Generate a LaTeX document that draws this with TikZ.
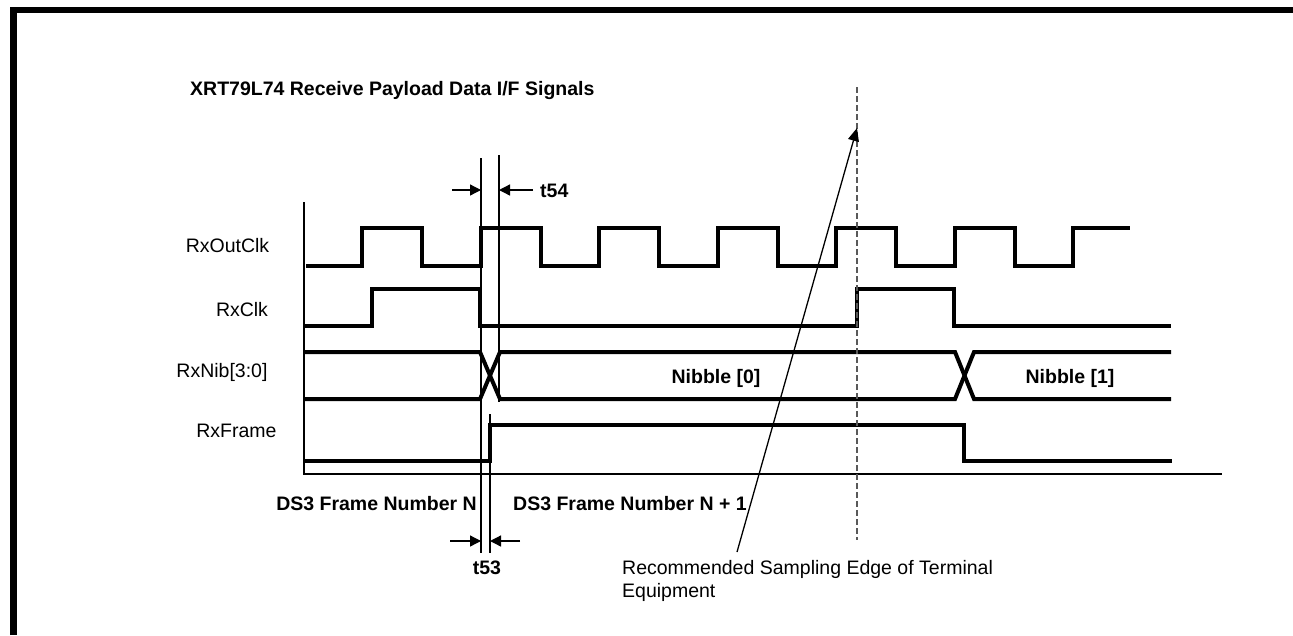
\documentclass[tikz,border=0pt]{standalone}
\usepackage{fontspec}
\setmainfont{Liberation Sans}
\usetikzlibrary{arrows.meta,positioning}

\begin{document}
\begin{tikzpicture}[x=1pt,y=-1pt,
    sig/.style={line width=4pt},
    axis/.style={line width=1.8pt},
    guide/.style={line width=1.2pt},
    dim/.style={line width=1.3pt,-{Triangle[length=11pt,width=11pt]}},
    lbl/.style={font=\fontsize{19.5}{23}\selectfont,inner sep=0pt},
    blbl/.style={font=\fontsize{19.5}{23}\selectfont\bfseries,inner sep=0pt}
]
\useasboundingbox (0,0) rectangle (1293,635);
\draw[line width=6.5pt] (13.5,635) -- (13.5,10) -- (1293,10);

\node[blbl,anchor=base west] (title) at (190,95) {XRT79L74 Receive Payload Data I/F Signals};

% signal names
\node[lbl,anchor=base] (outclk) at (227.5,252) {RxOutClk};
\node[lbl,anchor=base] (clk) at (242,316) {RxClk};
\node[lbl,anchor=base] (nib) at (222,377) {RxNib[3:0]};
\node[lbl,anchor=base] (frame) at (236.5,437) {RxFrame};

% axes
\draw[axis] (304,202) -- (304,474) -- (1222,474);

% waveforms
\draw[sig] (306,266) foreach \k in {0,...,5} {
    -- (362+118.5*\k,266) -- (362+118.5*\k,228) -- (422+118.5*\k,228) -- (422+118.5*\k,266)}
    -- (1073,266) -- (1073,228) -- (1130,228);
\draw[sig] (304,326) -- (372,326) -- (372,289) -- (480,289) -- (480,326) -- (857,326)
    -- (857,289) -- (954,289) -- (954,326) -- (1171,326);
\draw[sig] (304,352) -- (480,352) -- (500,399) -- (955,399) -- (974,352) -- (1171,352);
\draw[sig] (304,399) -- (480,399) -- (500,352) -- (955,352) -- (974,399) -- (1171,399);
\draw[sig] (304,461) -- (490,461) -- (490,425) -- (964,425) -- (964,461) -- (1172,461);
\node[blbl,anchor=base] (nib0) at (716,383) {Nibble [0]};
\node[blbl,anchor=base] (nib1) at (1070,383) {Nibble [1]};

% timing guides
\draw[guide] (481,158) -- (481,553);
\draw[guide] (499,155) -- (499,402);
\draw[guide] (490,414) -- (490,553);

% t54
\coordinate (a54) at (452,190);
\coordinate (b54) at (481,190);
\coordinate (c54) at (533,190);
\coordinate (d54) at (499,190);
\draw[dim] (a54) -- (b54);
\draw[dim] (c54) -- (d54);
\node[blbl,anchor=base west] (t54) at (540,197) {t54};

% t53
\coordinate (a53) at (450,541);
\coordinate (b53) at (481,541);
\coordinate (c53) at (520,541);
\coordinate (d53) at (490,541);
\draw[dim] (a53) -- (b53);
\draw[dim] (c53) -- (d53);
\node[blbl,anchor=base] (t53) at (487,574) {t53};

\node[blbl,anchor=base east] (frmN) at (477,510) {DS3 Frame Number N};
\node[blbl,anchor=base west] (frmN1) at (513,510) {DS3 Frame Number N + 1};

% sampling edge
\draw[guide,black!65,dash pattern=on 6pt off 3pt] (857,87) -- (857,540);
\node[lbl,anchor=north west,align=left] (note) at (622,560) {Recommended Sampling Edge of Terminal\\Equipment};
\coordinate (tail) at (737,552);
\coordinate (tip) at (857,128);
\draw[line width=1.3pt,-{Triangle[length=13pt,width=11pt]}] (tail) -- (tip);
\end{tikzpicture}
\end{document}
